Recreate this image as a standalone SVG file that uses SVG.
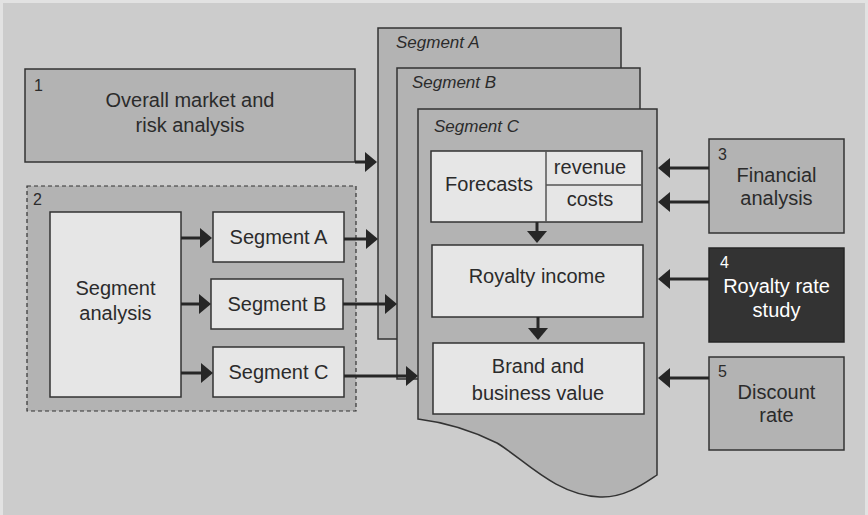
<svg xmlns="http://www.w3.org/2000/svg" width="868" height="515" viewBox="0 0 868 515">
  <defs>
    <marker id="arrow" markerUnits="userSpaceOnUse" markerWidth="12" markerHeight="20" refX="8" refY="10" orient="auto">
      <path d="M0,0 L12,10 L0,20 Z" fill="#262626"/>
    </marker>
    <style>
      .panel { fill: #b3b3b3; stroke: #333; stroke-width: 1.5; }
      .light { fill: #e6e6e6; stroke: #333; stroke-width: 1.5; }
      .dark { fill: #333333; stroke: #262626; stroke-width: 1.5; }
      .dashed { fill: #b3b3b3; stroke: #333; stroke-width: 1.2; stroke-dasharray: 4 3; }
      .divider { stroke: #555; stroke-width: 1.5; fill: none; }
      text { font-family: "Liberation Sans", Arial, sans-serif; fill: #2b2b2b; }
      .lbl { font-size: 20px; text-anchor: middle; }
      .num { font-size: 16px; }
      .seg { font-size: 17px; font-style: italic; }
      .inv { fill: #ffffff; }
      .conn { stroke: #262626; stroke-width: 3; fill: none; marker-end: url(#arrow); }
    </style>
  </defs>

  <!-- page background -->
  <rect x="0" y="0" width="868" height="515" fill="#e2e2e2"/>
  <rect x="3" y="3" width="862" height="512" fill="#cccccc"/>

  <!-- 1: overall market and risk analysis -->
  <g id="node-market">
    <rect class="panel" x="25" y="69" width="330" height="93"/>
    <text class="num" x="34" y="91">1</text>
    <text class="lbl" x="190" y="107">Overall market and</text>
    <text class="lbl" x="190" y="132">risk analysis</text>
  </g>

  <!-- 2: segment analysis group -->
  <g id="node-segment-analysis">
    <rect class="dashed" x="27" y="186" width="329" height="225"/>
    <text class="num" x="33" y="205">2</text>
    <rect class="light" x="50" y="212" width="131" height="185"/>
    <text class="lbl" x="115.5" y="295">Segment</text>
    <text class="lbl" x="115.5" y="320">analysis</text>
  </g>
  <g id="node-seg-a">
    <rect class="light" x="213" y="212" width="131" height="50"/>
    <text class="lbl" x="278.5" y="244">Segment A</text>
  </g>
  <g id="node-seg-b">
    <rect class="light" x="211" y="279" width="132" height="50"/>
    <text class="lbl" x="277" y="311">Segment B</text>
  </g>
  <g id="node-seg-c">
    <rect class="light" x="213" y="347" width="131" height="50"/>
    <text class="lbl" x="278.5" y="379">Segment C</text>
  </g>

  <!-- stacked segment sheets -->
  <g id="sheet-a">
    <rect class="panel" x="378" y="28" width="243" height="311"/>
    <text class="seg" x="396" y="48">Segment A</text>
  </g>
  <g id="sheet-b">
    <rect class="panel" x="397" y="68" width="243" height="311"/>
    <text class="seg" x="412" y="88">Segment B</text>
  </g>
  <g id="sheet-c">
    <path class="panel" d="M418,109 H657 V475 C645,483 625,498 600,497 C555,495 525,460 497,443 C475,432 450,423 418,419 Z"/>
    <text class="seg" x="434" y="132">Segment C</text>
  </g>

  <g id="node-forecasts">
    <rect class="light" x="431" y="151" width="211" height="71"/>
    <path class="divider" d="M546,151 V222 M546,185 H642"/>
    <text class="lbl" x="489" y="191">Forecasts</text>
    <text class="lbl" x="590" y="174">revenue</text>
    <text class="lbl" x="590" y="206">costs</text>
  </g>
  <g id="node-royalty-income">
    <rect class="light" x="432" y="245" width="211" height="72"/>
    <text class="lbl" x="537" y="283">Royalty income</text>
  </g>
  <g id="node-brand-value">
    <rect class="light" x="433" y="343" width="211" height="71"/>
    <text class="lbl" x="538" y="373">Brand and</text>
    <text class="lbl" x="538" y="400">business value</text>
  </g>

  <!-- 3-5: external inputs -->
  <g id="node-financial">
    <rect class="panel" x="709" y="139" width="135" height="94"/>
    <text class="num" x="718" y="160">3</text>
    <text class="lbl" x="776.5" y="182">Financial</text>
    <text class="lbl" x="776.5" y="205">analysis</text>
  </g>
  <g id="node-royalty-rate">
    <rect class="dark" x="709" y="248" width="135" height="94"/>
    <text class="num inv" x="720" y="268">4</text>
    <text class="lbl inv" x="776.5" y="293">Royalty rate</text>
    <text class="lbl inv" x="776.5" y="317">study</text>
  </g>
  <g id="node-discount">
    <rect class="panel" x="709" y="357" width="135" height="93"/>
    <text class="num" x="718" y="377">5</text>
    <text class="lbl" x="776.5" y="399">Discount</text>
    <text class="lbl" x="776.5" y="422">rate</text>
  </g>

  <!-- connectors -->
  <g id="connectors">
    <path class="conn" d="M355,162 H373"/>
    <path class="conn" d="M181,238 H208"/>
    <path class="conn" d="M181,304 H207"/>
    <path class="conn" d="M181,373 H209"/>
    <path class="conn" d="M344,239 H374"/>
    <path class="conn" d="M343,304 H393"/>
    <path class="conn" d="M344,376 H414"/>
    <path class="conn" d="M537,222 V239"/>
    <path class="conn" d="M538,317 V336"/>
    <path class="conn" d="M709,168 H662"/>
    <path class="conn" d="M709,202 H662"/>
    <path class="conn" d="M709,279 H662"/>
    <path class="conn" d="M709,378 H662"/>
  </g>
</svg>
